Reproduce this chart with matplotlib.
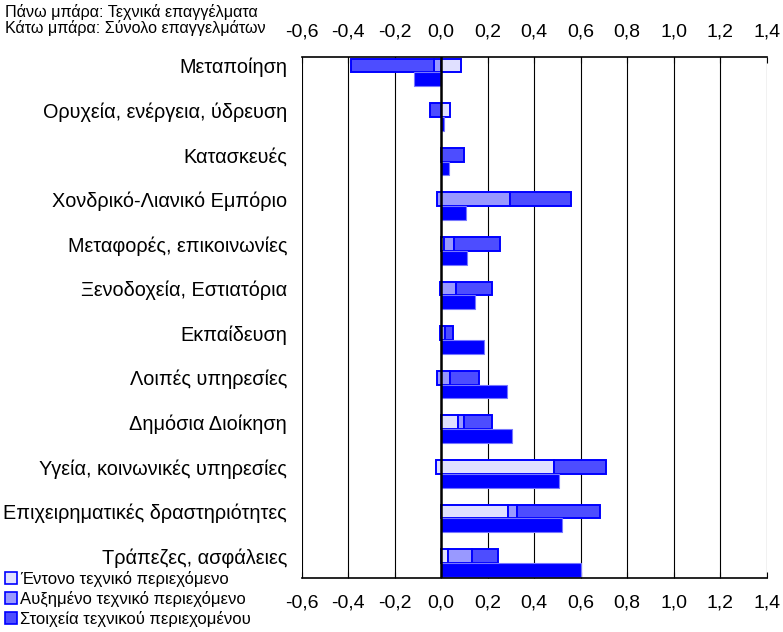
import matplotlib.pyplot as plt
import numpy as np
from matplotlib.patches import Patch

plt.rcParams["font.family"] = ["Liberation Sans", "DejaVu Sans"]

categories = [
    "Μεταποίηση",
    "Ορυχεία, ενέργεια, ύδρευση",
    "Κατασκευές",
    "Χονδρικό-Λιανικό Εμπόριο",
    "Μεταφορές, επικοινωνίες",
    "Ξενοδοχεία, Εστιατόρια",
    "Εκπαίδευση",
    "Λοιπές υπηρεσίες",
    "Δημόσια Διοίκηση",
    "Υγεία, κοινωνικές υπηρεσίες",
    "Επιχειρηματικές δραστηριότητες",
    "Τράπεζες, ασφάλειες",
]

# top bars (technical occupations), three components
entono = [0.085, 0.039, 0.0, 0.0, 0.012, 0.0, 0.0, 0.0, 0.072, 0.485, 0.287, 0.029]
afximeno = [-0.033, 0.0, 0.0, 0.297, 0.041, 0.063, 0.017, 0.039, 0.027, 0.0, 0.040, 0.103]
stoixeia = [-0.357, -0.050, 0.096, 0.262, 0.202, 0.155, 0.032, 0.122, 0.119, 0.222, 0.354, 0.112]
# small negative start of some top bars
top_start = [0.0, 0.0, 0.0, -0.019, 0.0, -0.007, -0.007, -0.016, 0.0, -0.023, 0.0, 0.0]

# bottom bars (all occupations)
total = [-0.119, 0.013, 0.032, 0.106, 0.112, 0.145, 0.183, 0.284, 0.304, 0.506, 0.518, 0.602]

series_names = ["Έντονο τεχνικό περιεχόμενο", "Αυξημένο τεχνικό περιεχόμενο",
                "Στοιχεία τεχνικού περιεχομένου"]
series_colors = ["#E0E0FF", "#9999FF", "#4D4DFF"]
tick_vals = [-0.6, -0.4, -0.2, 0.0, 0.2, 0.4, 0.6, 0.8, 1.0, 1.2, 1.4]
tick_labels = ["-0,6", "-0,4", "-0,2", "0,0", "0,2", "0,4", "0,6", "0,8", "1,0", "1,2", "1,4"]

fig = plt.figure(figsize=(7.83, 6.32), dpi=100)
ax = fig.add_axes([301.7 / 783, 1 - 577.7 / 632, 465 / 783, 520.4 / 632])

y = np.arange(len(categories))
h = 0.31
y_top = y - h / 2
y_bot = y + h / 2

for gx in tick_vals:
    ax.axvline(gx, color="black", lw=0.8, zorder=0)
ax.axvline(0, color="black", lw=1.8, zorder=3)

# stacked top bars: positives stack right of zero, negatives left of zero
for i in range(len(categories)):
    pos = 0.0
    neg = 0.0
    first = True
    for vals, col in zip([entono, afximeno, stoixeia], series_colors):
        v = vals[i]
        if v == 0:
            continue
        if v > 0:
            left = pos
            width = v
            if first and top_start[i] < 0:
                left = top_start[i]
                width = v - top_start[i]
            pos += v
        else:
            left = neg + v
            width = -v
            neg += v
        first = False
        ax.barh(y_top[i], width, left=left, height=h, color=col,
                edgecolor="#0000FF", linewidth=1.4, zorder=2)

ax.barh(y_bot, total, height=h, color="#0000FF", edgecolor="#7777FF",
        linewidth=0.8, zorder=2)

ax.set_xlim(-0.6, 1.4)
ax.set_ylim(len(categories) - 1 + 0.33, -0.34)
ax.set_xticks(tick_vals)
ax.set_xticklabels(tick_labels)
ax.tick_params(axis="x", which="both", direction="in", top=True, bottom=True,
               labeltop=True, labelbottom=True, labelsize=14, length=4, pad=12)
ax.set_yticks(y_top)
ax.set_yticklabels(categories)
ax.tick_params(axis="y", length=0, labelsize=14.3, pad=10.5)
for s in ["left", "right"]:
    ax.spines[s].set_visible(False)
for s in ["top", "bottom"]:
    ax.spines[s].set_linewidth(1.2)

fig.text(5 / 783, 1 - 12 / 632, "Πάνω μπάρα: Τεχνικά επαγγέλματα", fontsize=11.6, va="center")
fig.text(5 / 783, 1 - 28 / 632, "Κάτω μπάρα: Σύνολο επαγγελμάτων", fontsize=11.6, va="center")

handles = [Patch(facecolor=c, edgecolor="#0000FF", linewidth=1.2) for c in series_colors]
fig.legend(handles, series_names, loc="lower left", bbox_to_anchor=(0.0, 0.0),
           frameon=False, fontsize=12, handlelength=0.7, handleheight=0.7,
           handletextpad=0.2, labelspacing=0.25, borderpad=0.2, borderaxespad=0.1)

fig.savefig("out.png", dpi=100)
